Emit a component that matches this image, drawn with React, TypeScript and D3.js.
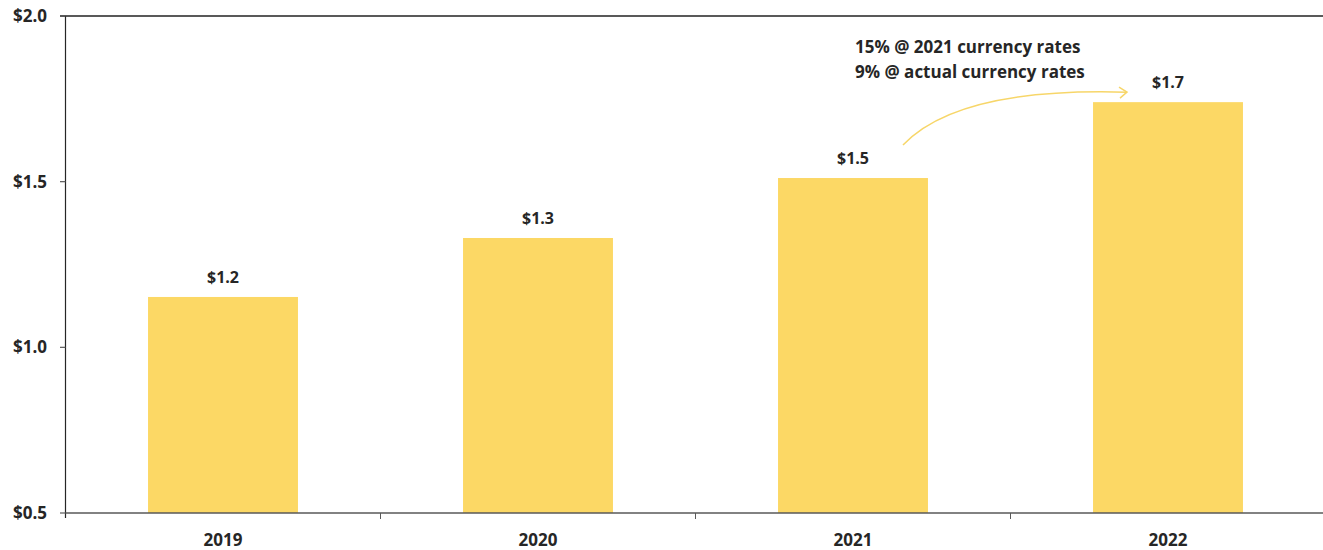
import React from "react";
import * as d3 from "d3";

const years = ["2019", "2020", "2021", "2022"];
const values = [1.152, 1.33, 1.511, 1.74];
const valueLabels = ["$1.2", "$1.3", "$1.5", "$1.7"];
const yTicks = [0.5, 1.0, 1.5, 2.0];
const noteLines = ["15% @ 2021 currency rates", "9% @ actual currency rates"];

const W = 1323;
const H = 550;
const left = 65.5;
const right = 1325.5;
const top = 16;
const bottom = 513;
const font = "'Open Sans', 'Liberation Sans', sans-serif";
const textColor = "#262626";
const barColor = "#FCD865";

export default function App() {
  const x = d3.scaleBand<string>().domain(years).range([left, right]).paddingInner(0.524).paddingOuter(0.262);
  const y = d3.scaleLinear().domain([0.5, 2.0]).range([bottom, top]);
  const bw = x.bandwidth();
  const boundaries = years.slice(1).map((yr) => x(yr)! - (x.step() - bw) / 2);

  const ax = x("2021")! + bw / 2 + 50;
  const ay = y(values[2]) - 33;
  const bx = x("2022")! + bw / 2 - 41;
  const by = y(values[3]) - 10;
  const arrowPath = `M${ax},${ay} Q${ax + 55},${by - 5} ${bx},${by}`;

  return (
    <svg width={W} height={H} style={{ position: "absolute", left: 0, top: 0, background: "#fff" }}>
      {years.map((yr, i) => (
        <rect key={yr} x={x(yr)} y={y(values[i])} width={bw} height={bottom - y(values[i])} fill={barColor} />
      ))}
      <line x1={60} x2={W} y1={y(2.0)} y2={y(2.0)} stroke="#595959" strokeWidth={2} />
      <line x1={left} x2={left} y1={top} y2={bottom + 5} stroke="#262626" strokeWidth={1.2} />
      {yTicks.map((t) => (
        <g key={t}>
          <line x1={60} x2={left} y1={y(t)} y2={y(t)} stroke="#595959" strokeWidth={1.2} />
          <text x={47} y={y(t)} dy="0.35em" textAnchor="end" fontFamily={font} fontWeight={700} fontSize={17} fill={textColor}>
            {"$" + d3.format(".1f")(t)}
          </text>
        </g>
      ))}
      <line x1={left} x2={W} y1={bottom} y2={bottom} stroke="#595959" strokeWidth={1.5} />
      {boundaries.map((b, i) => (
        <line key={i} x1={b} x2={b} y1={bottom} y2={bottom + 6} stroke="#595959" strokeWidth={1} />
      ))}
      {years.map((yr) => (
        <text key={yr} x={x(yr)! + bw / 2} y={540} dy="0.35em" textAnchor="middle" fontFamily={font} fontWeight={700} fontSize={17} fill={textColor}>
          {yr}
        </text>
      ))}
      {years.map((yr, i) => (
        <text key={yr} x={x(yr)! + bw / 2} y={y(values[i]) - 19.5} dy="0.35em" textAnchor="middle" fontFamily={font} fontWeight={700} fontSize={16} fill={textColor}>
          {valueLabels[i]}
        </text>
      ))}
      {noteLines.map((l, i) => (
        <text key={i} x={855} y={47 + i * 25.5} dy="0.35em" fontFamily={font} fontWeight={700} fontSize={17} fill={textColor}>
          {l}
        </text>
      ))}
      <path d={arrowPath} fill="none" stroke="#F7D669" strokeWidth={1.5} />
      <path d={`M${bx - 8},${by - 5} L${bx},${by} L${bx - 7},${by + 6}`} fill="none" stroke="#F7D669" strokeWidth={1.5} />
    </svg>
  );
}
